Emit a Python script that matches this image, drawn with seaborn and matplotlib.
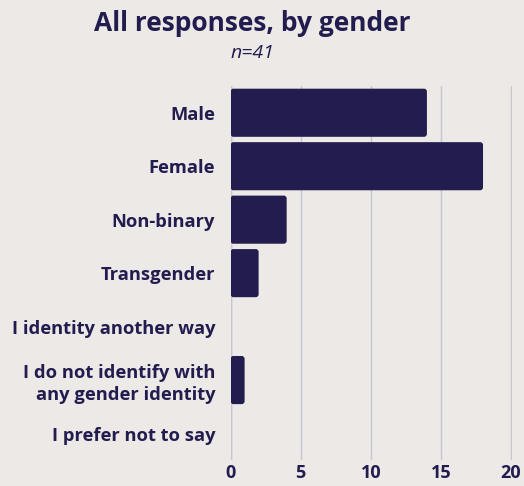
import matplotlib
matplotlib.use("Agg")
import matplotlib.pyplot as plt
import pandas as pd
import seaborn as sns
from matplotlib.patches import FancyBboxPatch

categories = ["Male", "Female", "Non-binary", "Transgender",
              "I identity another way",
              "I do not identify with\nany gender identity",
              "I prefer not to say"]
counts = [14, 18, 4, 2, 0, 1, 0]
x_ticks = [0, 5, 10, 15, 20]

BG = "#ece9e6"
NAVY = "#231c4f"
GRID = "#c8c4d2"

sns.set_theme(style="white")
plt.rcParams["font.family"] = ["Open Sans", "DejaVu Sans"]

df = pd.DataFrame({"gender": categories, "count": counts})

fig = plt.figure(figsize=(5.24, 4.86), dpi=100, facecolor=BG)
ax = fig.add_axes([0.44, 0.053, 0.538, 0.77])
ax.set_facecolor(BG)

sns.barplot(data=df, x="count", y="gender", order=categories,
            color=NAVY, width=0.9, ax=ax, saturation=1)

# swap the square bars for slightly rounded ones
for p in list(ax.patches):
    x0, y0 = p.get_x(), p.get_y()
    w, h = p.get_width(), p.get_height()
    p.remove()
    if w <= 0:
        continue
    ax.add_patch(FancyBboxPatch((x0, y0), w, h,
                                boxstyle="round,pad=0,rounding_size=0.2",
                                mutation_aspect=0.28, facecolor=NAVY,
                                edgecolor="none", zorder=3))

ax.set_xlim(0, 20.1)
ax.set_xticks(x_ticks)
ax.xaxis.grid(True, color=GRID, lw=1)
ax.set_axisbelow(True)
for s in ax.spines.values():
    s.set_visible(False)
ax.axvline(0, color=GRID, lw=1, zorder=1)
ax.tick_params(axis="both", length=0)
ax.tick_params(axis="x", pad=3)
ax.tick_params(axis="y", pad=11)
for lbl in ax.get_xticklabels():
    lbl.set_fontweight("bold")
    lbl.set_fontsize(13)
    lbl.set_color(NAVY)
for lbl in ax.get_yticklabels():
    lbl.set_fontweight("bold")
    lbl.set_fontsize(13.2)
    lbl.set_color(NAVY)
    lbl.set_horizontalalignment("right")
    lbl.set_multialignment("right")
    lbl.set_linespacing(1.3)
ax.set_xlabel("")
ax.set_ylabel("")

fig.text(0.481, 0.952, "All responses, by gender", ha="center", va="center",
         fontsize=19, fontweight="bold", color=NAVY)
fig.text(0.481, 0.89, "n=41", ha="center", va="center",
         fontsize=14, style="italic", color=NAVY)

fig.savefig("out.png", dpi=100, facecolor=BG)
